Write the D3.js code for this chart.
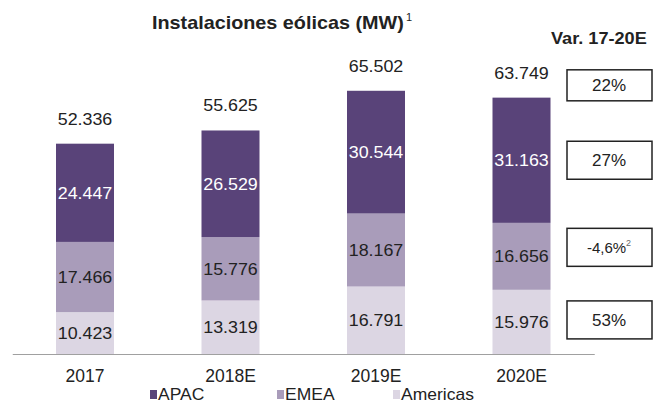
<!DOCTYPE html>
<html>
<head>
<meta charset="utf-8">
<script src="https://cdn.jsdelivr.net/npm/d3@7"></script>
<style>
  html, body { margin: 0; padding: 0; background: #fff; }
  svg { display: block; font-family: "Liberation Sans", Arial, sans-serif; }
</style>
</head>
<body>
<svg id="chart" width="654" height="405"></svg>
<script>
// ---- data ----
const categories = ["2017", "2018E", "2019E", "2020E"];
const seriesNames = ["Americas", "EMEA", "APAC"];
const americas = [10423, 13319, 16791, 15976];
const emea = [17466, 15776, 18167, 16656];
const apac = [24447, 26529, 30544, 31163];
const totals = [52336, 55625, 65502, 63749];
const totalLabels = ["52.336", "55.625", "65.502", "63.749"];
const americasLabels = ["10.423", "13.319", "16.791", "15.976"];
const emeaLabels = ["17.466", "15.776", "18.167", "16.656"];
const apacLabels = ["24.447", "26.529", "30.544", "31.163"];
const varLabels = ["22%", "27%", "-4,6%", "53%"]; // total, APAC, EMEA, Americas
const varSup = ["", "", "2", ""];
const legendNames = ["APAC", "EMEA", "Americas"];
const title = "Instalaciones eólicas (MW)";
const varTitle = "Var. 17-20E";

// ---- layout ----
const svg = d3.select("#chart");
const colors = { APAC: "#594379", EMEA: "#a99cba", Americas: "#dcd6e3" };
const baseY = 354;

const x = d3.scaleBand().domain(categories).range([12.25, 594.25])
  .paddingInner(0.6014).paddingOuter(0.3007);
const y = d3.scaleLinear().domain([0, 70000]).range([baseY, 72.7]);

const rows = categories.map((c, i) => ({
  cat: c, Americas: americas[i], EMEA: emea[i], APAC: apac[i]
}));
const stack = d3.stack().keys(seriesNames)(rows);
const labelsBy = { Americas: americasLabels, EMEA: emeaLabels, APAC: apacLabels };

// bars
const layer = svg.append("g").selectAll("g").data(stack).join("g")
  .attr("fill", d => colors[d.key]);
layer.selectAll("rect").data(d => d).join("rect")
  .attr("x", d => x(d.data.cat))
  .attr("width", x.bandwidth())
  .attr("y", d => y(d[1]))
  .attr("height", d => y(d[0]) - y(d[1]));

// segment labels
stack.forEach(s => {
  svg.append("g").selectAll("text").data(s).join("text")
    .attr("transform", (d, i) => `translate(${x(d.data.cat) + x.bandwidth() / 2},${(y(d[0]) + y(d[1])) / 2 + 6}) scale(1.05,1)`)
    .attr("text-anchor", "middle")
    .attr("font-size", 17)
    .attr("fill", s.key === "APAC" ? "#ffffff" : "#222")
    .text((d, i) => labelsBy[s.key][i]);
});

// totals
svg.append("g").selectAll("text").data(totals).join("text")
  .attr("transform", (d, i) => `translate(${x(categories[i]) + x.bandwidth() / 2},${y(d) - 19}) scale(1.05,1)`)
  .attr("text-anchor", "middle")
  .attr("font-size", 17)
  .attr("fill", "#222")
  .text((d, i) => totalLabels[i]);

// x axis
const xAxis = svg.append("g").attr("transform", `translate(0,${baseY})`)
  .call(d3.axisBottom(x).tickSize(0).tickPadding(16));
xAxis.select(".domain").attr("stroke", "#a0a0a0").attr("stroke-width", 1.2);
xAxis.selectAll("text").attr("font-size", 17.5).attr("fill", "#222")
  .attr("font-family", "'Liberation Sans', Arial, sans-serif");

// title
const t = svg.append("text")
  .attr("transform", "translate(152,29) scale(1.1,1)")
  .attr("font-size", 18).attr("font-weight", "bold").attr("fill", "#222");
t.append("tspan").text(title);
t.append("tspan").attr("font-size", 10).attr("font-weight", "normal").attr("dx", 2).attr("dy", -8).text("1");

svg.append("text")
  .attr("transform", "translate(551,44) scale(1.1,1)")
  .attr("font-size", 16.5).attr("font-weight", "bold").attr("fill", "#222")
  .text(varTitle);

// variation boxes (aligned to 2020E bar segments)
const last = categories.length - 1;
const apacSeg = stack[2][last], emeaSeg = stack[1][last], amSeg = stack[0][last];
const boxCenters = [
  y(totals[last]) - 12.5,
  (y(apacSeg[0]) + y(apacSeg[1])) / 2,
  (y(emeaSeg[0]) + y(emeaSeg[1])) / 2 - 9,
  (y(amSeg[0]) + y(amSeg[1])) / 2 - 2
];
const boxHeights = [31, 38, 38, 38];
const boxes = svg.append("g").selectAll("g").data(varLabels).join("g")
  .attr("transform", (d, i) => `translate(567,${boxCenters[i]})`);
boxes.append("rect")
  .attr("x", 0).attr("width", 85)
  .attr("y", (d, i) => -boxHeights[i] / 2).attr("height", (d, i) => boxHeights[i])
  .attr("fill", "#fff").attr("stroke", "#222").attr("stroke-width", 1.5);
const bt = boxes.append("text")
  .attr("x", 42).attr("y", 6)
  .attr("text-anchor", "middle")
  .attr("font-size", (d, i) => i === 2 ? 15 : 17)
  .attr("fill", "#222");
bt.append("tspan").text(d => d);
bt.append("tspan").attr("font-size", 9).attr("dy", -7).attr("fill", "#666").text((d, i) => varSup[i]);

// legend
const legendX = [150, 277, 393];
const lg = svg.append("g").selectAll("g").data(legendNames).join("g")
  .attr("transform", (d, i) => `translate(${legendX[i]},400)`);
lg.append("rect").attr("x", 0).attr("y", -10).attr("width", 7).attr("height", 9)
  .attr("fill", d => colors[d]);
lg.append("text").attr("transform", "translate(8,0) scale(1.06,1)")
  .attr("font-size", 16.5).attr("fill", "#222").text(d => d);
</script>
</body>
</html>
